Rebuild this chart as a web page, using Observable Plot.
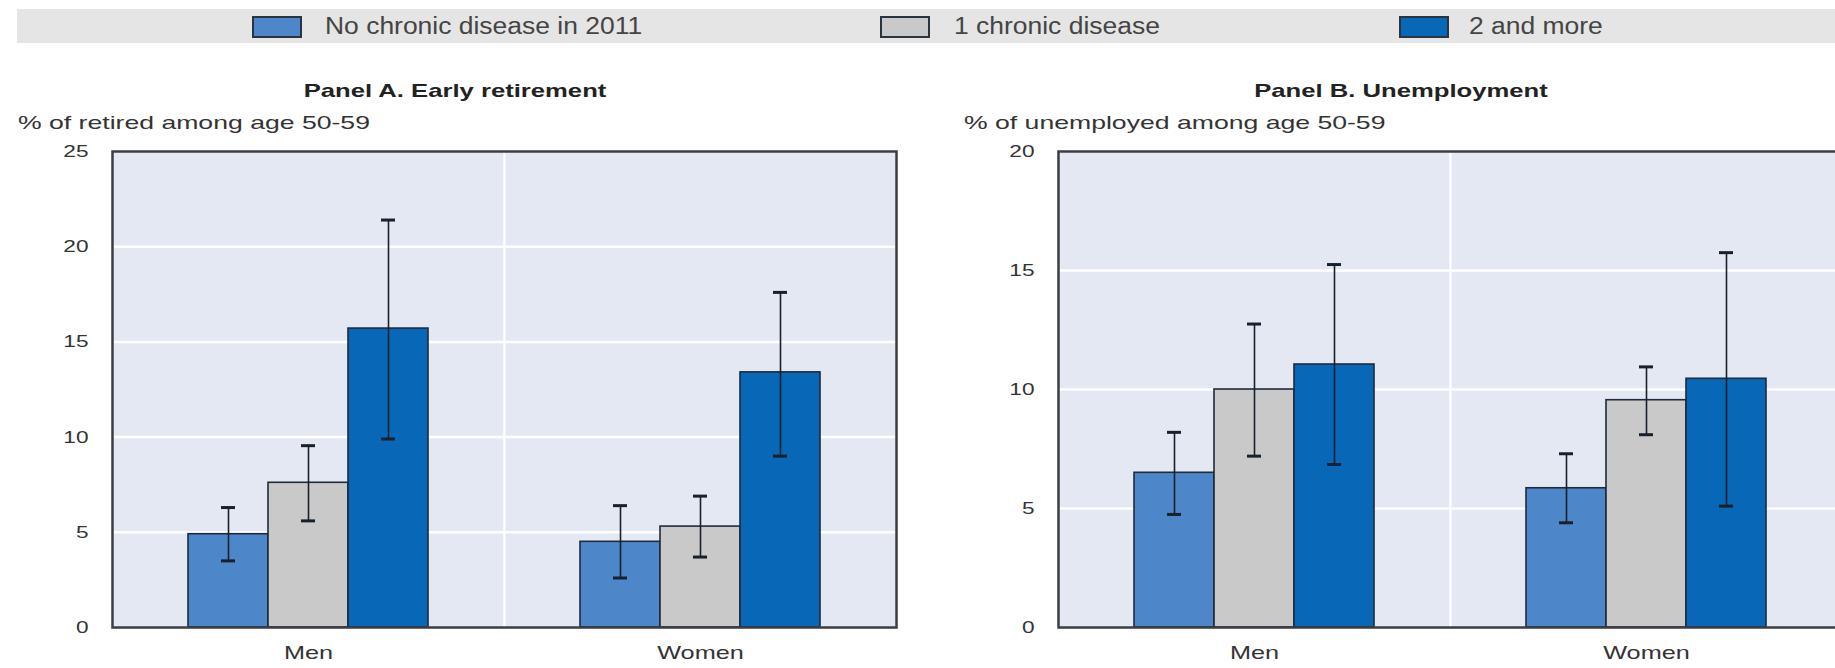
<!DOCTYPE html>
<html><head><meta charset="utf-8">
<script src="https://cdn.jsdelivr.net/npm/d3@7"></script>
<script src="https://cdn.jsdelivr.net/npm/@observablehq/plot@0.6"></script>
<style>
html,body{margin:0;padding:0;background:#fff;overflow:hidden;}
#root{position:relative;width:1835px;height:668px;overflow:hidden;background:#fff;
  font-family:"Liberation Sans",Arial,sans-serif;color:#333;}
.legend{position:absolute;left:17px;top:9px;width:1818px;height:34px;background:#e5e5e5;}
.sw{position:absolute;top:7px;width:50px;height:22px;border:2px solid #2a3340;box-sizing:border-box;}
.lt{position:absolute;top:0;line-height:34px;font-size:23px;color:#444;white-space:nowrap;transform-origin:0 50%;transform:scaleX(1.15);}
.ptitle{position:absolute;top:81px;line-height:20px;font-size:19px;font-weight:bold;color:#222;white-space:nowrap;transform:translateX(-50%) scaleX(1.35);}
.sub{position:absolute;top:113px;line-height:20px;font-size:19px;color:#333;white-space:nowrap;transform-origin:0 50%;transform:scaleX(1.4);}
.panel{position:absolute;top:140px;}
</style></head>
<body><div id="root"></div>
<script>
// ---- data ----
const groups = ["Men", "Women"];
const categories = ["No chronic disease in 2011", "1 chronic disease", "2 and more"];
const colors = ["#4d86c9", "#c9c9c9", "#0867b7"];

// order: Men (3 categories), then Women (3 categories)
const retiredValue = [4.9, 7.6, 15.7, 4.5, 5.3, 13.4];
const retiredLow   = [3.5, 5.6, 9.9, 2.6, 3.7, 9.0];
const retiredHigh  = [6.3, 9.55, 21.4, 6.4, 6.9, 17.6];

const unempValue = [6.5, 10.0, 11.05, 5.85, 9.55, 10.45];
const unempLow   = [4.75, 7.2, 6.85, 4.4, 8.1, 5.1];
const unempHigh  = [8.2, 12.75, 15.25, 7.3, 10.95, 15.75];

const retiredTicks = [0, 5, 10, 15, 20, 25];
const unempTicks = [0, 5, 10, 15, 20];

const panelTitles = ["Panel A. Early retirement", "Panel B. Unemployment"];
const panelSubtitles = ["% of retired among age 50-59", "% of unemployed among age 50-59"];

// ---- build ----
const root = document.getElementById("root");
const font = '"Liberation Sans", Arial, sans-serif';

// legend
const legend = document.createElement("div");
legend.className = "legend";
const swLeft = [235, 863, 1382];
const txtLeft = [308, 937, 1452];
categories.forEach((c, i) => {
  const s = document.createElement("div");
  s.className = "sw"; s.style.left = swLeft[i] + "px"; s.style.background = colors[i];
  legend.appendChild(s);
  const t = document.createElement("div");
  t.className = "lt"; t.style.left = txtLeft[i] + "px"; t.textContent = c;
  legend.appendChild(t);
});
root.appendChild(legend);

function rows(values, low, high) {
  const out = [];
  groups.forEach((g, gi) => categories.forEach((c, ci) => {
    const k = gi * categories.length + ci;
    out.push({group: g, category: c, value: values[k], low: low[k], high: high[k]});
  }));
  return out;
}

// widen svg text horizontally (the reference glyphs are stretched); svg must be in the DOM
function stretchText(svg, s) {
  svg.querySelectorAll("text").forEach(t => {
    const w = t.getComputedTextLength();
    if (w > 0) {
      t.setAttribute("textLength", (w * s).toFixed(1));
      t.setAttribute("lengthAdjust", "spacingAndGlyphs");
    }
  });
}

function panel(data, ticks, width) {
  const max = ticks[ticks.length - 1];
  const grid = ticks.filter(t => t > 0 && t < max);
  return Plot.plot({
    width, height: 528,
    marginLeft: 112, marginRight: 10, marginTop: 11, marginBottom: 41,
    fx: {domain: groups, padding: 0, label: null},
    x: {domain: categories, paddingInner: 0, paddingOuter: 0.95, axis: null},
    y: {domain: [0, max], label: null},
    color: {domain: categories, range: colors},
    style: {fontFamily: font, fontSize: "17px", color: "#333", background: "transparent"},
    marks: [
      Plot.frame({fill: "#e4e8f3", stroke: "#ffffff", strokeWidth: 2}),
      Plot.gridY(grid, {stroke: "#ffffff", strokeOpacity: 1, strokeWidth: 2.5}),
      Plot.barY(data, {fx: "group", x: "category", y: "value", fill: "category", stroke: "#1f2a3a", strokeWidth: 1.6}),
      Plot.ruleX(data, {fx: "group", x: "category", y1: "low", y2: "high", stroke: "#18202c", strokeWidth: 1.6}),
      Plot.tickY(data, {fx: "group", x: "category", y: "low", stroke: "#18202c", strokeWidth: 3, insetLeft: 33, insetRight: 33}),
      Plot.tickY(data, {fx: "group", x: "category", y: "high", stroke: "#18202c", strokeWidth: 3, insetLeft: 33, insetRight: 33}),
      Plot.frame({stroke: "#3a3d44", strokeWidth: 2.5, facet: "super"}),
      Plot.axisY(ticks, {anchor: "left", tickSize: 0, tickPadding: 24, label: null, fill: "#333", fontSize: 17}),
      Plot.axisFx({anchor: "bottom", tickSize: 0, tickPadding: 18, label: null, fill: "#333", fontSize: 19})
    ]
  });
}

const datasets = [rows(retiredValue, retiredLow, retiredHigh), rows(unempValue, unempLow, unempHigh)];
const tickSets = [retiredTicks, unempTicks];
const panelLeft = [0, 946];
const panelWidth = [906, 906];
const titleCenter = [455, 1401];
const subLeft = [18, 964];

datasets.forEach((d, i) => {
  const p = panel(d, tickSets[i], panelWidth[i]);
  p.classList.add("panel");
  p.style.left = panelLeft[i] + "px";
  root.appendChild(p);
  stretchText(p, 1.33);
  const t = document.createElement("div");
  t.className = "ptitle"; t.style.left = titleCenter[i] + "px"; t.textContent = panelTitles[i];
  root.appendChild(t);
  const s = document.createElement("div");
  s.className = "sub"; s.style.left = subLeft[i] + "px"; s.textContent = panelSubtitles[i];
  root.appendChild(s);
});
</script>
</body></html>
